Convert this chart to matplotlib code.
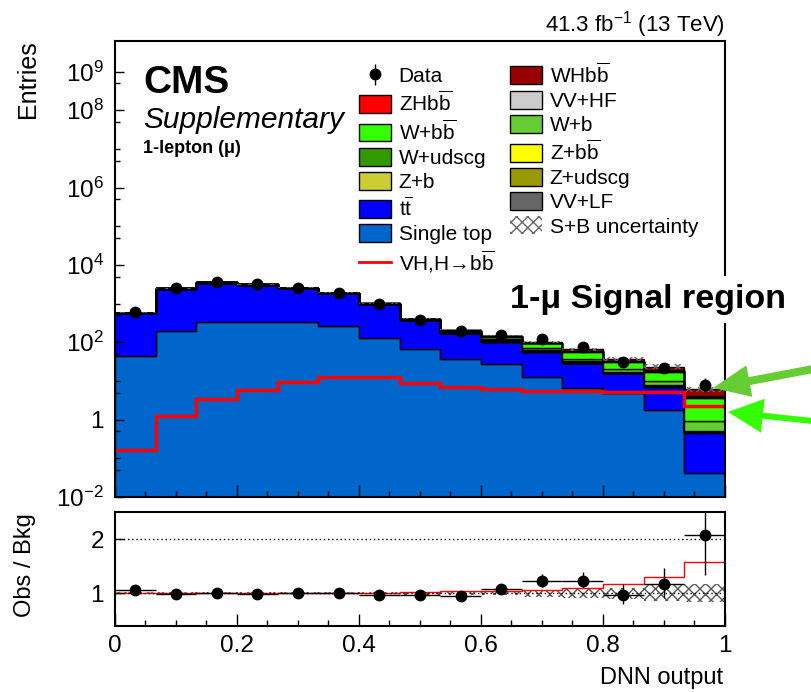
import numpy as np
import matplotlib
matplotlib.use('Agg')
import matplotlib.pyplot as plt
from matplotlib.patches import Patch, FancyArrow
from matplotlib.lines import Line2D
from matplotlib.transforms import IdentityTransform
from matplotlib.ticker import FixedLocator, FixedFormatter, MultipleLocator

plt.rcParams['font.family'] = ['Liberation Sans', 'DejaVu Sans']
plt.rcParams['mathtext.fontset'] = 'custom'
plt.rcParams['mathtext.rm'] = 'Liberation Sans'
plt.rcParams['mathtext.it'] = 'Liberation Sans:italic'
plt.rcParams['mathtext.bf'] = 'Liberation Sans:bold'
plt.rcParams['hatch.linewidth'] = 1.0

# DNN output binning: 15 bins between 0 and 1
edges = np.linspace(0, 1, 16)

data = [619, 2460, 3565, 3131, 2591, 1923, 970, 385, 193, 152, 121, 74, 31, 21, 8]

# backgrounds
single_top = [44, 200, 341, 341, 338, 263, 126, 68, 36.6, 27.5, 12.9, 6.5, 4.8, 1.78, 0.042]
ttbar = [521, 2234, 3157, 2752, 2178, 1604, 859, 315, 133, 76.5, 44, 22.5, 11.2, 5.2, 0.42]
vv_lf = [0.8, 2.5, 3, 2.5, 2, 1.5, 1, 0.6, 1.2, 0.4, 0.2, 0.1, 0.05, 0.05, 0.005]
z_udscg = [1, 3, 3, 2.5, 2, 1.5, 0.8, 0.5, 0.6, 0.8, 0.7, 0.3, 0.1, 0.1, 0.005]
z_b = [0.3, 1, 1, 1, 0.8, 0.6, 0.4, 0.3, 0.4, 0.6, 0.6, 0.3, 0.1, 0.1, 0.005]
z_bb = [0.3, 1, 1.5, 1.5, 1.2, 1, 0.8, 0.6, 0.8, 1.2, 1.5, 0.8, 0.3, 0.2, 0.01]
w_udscg = [10, 30, 35, 28, 20, 14, 8, 4, 6, 5, 4, 2, 1, 0.6, 0.02]
w_b = [3, 10, 12, 10, 8, 6, 4, 3, 6, 7, 7, 5, 2.5, 1.8, 0.39]
w_bb = [2, 6, 8, 8, 7, 6, 5, 6, 14, 20, 24, 20, 11, 7.5, 2.74]
vv_hf = [0.5, 2, 3, 3, 3, 2.5, 2, 1.5, 3, 3, 3, 2.5, 1, 0.7, 0.2]

# signal
zh_bb = [0.019, 0.15, 0.41, 0.7, 1.15, 1.5, 1.5, 1.05, 0.8, 0.75, 0.65, 0.65, 0.65, 0.65, 0.27]
wh_bb = [0.145, 1.09, 2.95, 5.15, 8.1, 11.2, 11.2, 7.75, 6.1, 5.35, 4.95, 4.95, 4.65, 4.65, 1.98]

# relative S+B uncertainty per bin
rel_unc = [0.02, 0.015, 0.015, 0.015, 0.015, 0.015, 0.02, 0.025, 0.03, 0.04, 0.06, 0.08, 0.10, 0.15, 0.17]

bkg_stack = [
    (single_top, '#0066CC'),
    (ttbar, '#0000FF'),
    (vv_lf, '#666666'),
    (z_udscg, '#999900'),
    (z_b, '#CCCC33'),
    (z_bb, '#FFFF00'),
    (w_udscg, '#339900'),
    (w_b, '#66CC33'),
    (w_bb, '#33FF00'),
    (vv_hf, '#CCCCCC'),
]
sig_stack = [
    (zh_bb, '#FF0000'),
    (wh_bb, '#990000'),
]

fig = plt.figure(figsize=(8.12, 6.92), dpi=100)
ax = fig.add_axes([0.1416, 0.2818, 0.7512, 0.659])
rax = fig.add_axes([0.1416, 0.0958, 0.7512, 0.1639])

centers = 0.5 * (edges[:-1] + edges[1:])
n = np.array(data, dtype=float)

# stacked histograms
bottom = np.full(15, 1e-4)
for vals, col in bkg_stack:
    top = bottom + np.array(vals)
    ax.stairs(top, edges, baseline=bottom, fill=True, facecolor=col,
              edgecolor='black', linewidth=1)
    bottom = top
bkg = bottom.copy()
for vals, col in sig_stack:
    top = bottom + np.array(vals)
    ax.stairs(top, edges, baseline=bottom, fill=True, facecolor=col,
              edgecolor='black', linewidth=1)
    bottom = top
total = bottom
sig = np.array(zh_bb) + np.array(wh_bb)
unc = np.array(rel_unc)

def step(v):
    return np.append(v, v[-1])

ax.fill_between(edges, step(total * (1 - unc)), step(total * (1 + unc)), step='post',
                facecolor='none', edgecolor='#666666', hatch='xxx', linewidth=0)

# signal shape
ax.stairs(sig, edges, baseline=None, color='#FF0000', linewidth=2.5)

err_lo = np.sqrt(n)
err_hi = np.sqrt(n) + 1
data_h = ax.errorbar(centers, n, yerr=[err_lo, err_hi], fmt='o', color='black',
                     ms=7.5, lw=1, capsize=0)

ax.set_yscale('log')
ax.set_xlim(0, 1)
ax.set_ylim(1e-2, 10 ** 9.79)
ylab = {1e-2: '$10^{-2}$', 1: '1', 1e2: '$10^{2}$', 1e4: '$10^{4}$',
        1e6: '$10^{6}$', 1e8: '$10^{8}$', 1e9: '$10^{9}$'}
ax.yaxis.set_major_locator(FixedLocator(list(ylab.keys())))
ax.yaxis.set_major_formatter(FixedFormatter(list(ylab.values())))
minor = [10.0 ** k for k in (-1, 1, 3, 5, 7)] + [5 * 10.0 ** k for k in range(-2, 9)]
ax.yaxis.set_minor_locator(FixedLocator(minor))
ax.yaxis.set_minor_formatter(FixedFormatter([''] * len(minor)))

xticks = [0, 0.2, 0.4, 0.6, 0.8, 1]
xlabels = ['0', '0.2', '0.4', '0.6', '0.8', '1']
for a in (ax, rax):
    a.xaxis.set_major_locator(FixedLocator(xticks))
    a.xaxis.set_minor_locator(MultipleLocator(0.05))
    for s in a.spines.values():
        s.set_linewidth(1.5)
    a.tick_params(which='both', direction='in', labelsize=17.5, width=1)
    a.tick_params(axis='x', which='major', length=8.5)
    a.tick_params(axis='x', which='minor', length=4.3)
    a.tick_params(axis='y', which='major', length=6.5, pad=8)
    a.tick_params(axis='y', which='minor', length=3.5)
    a.tick_params(axis='x', pad=7)
ax.tick_params(axis='x', labelbottom=False)

# ratio panel
rax.fill_between(edges, step(1 - unc), step(1 + unc), step='post',
                 facecolor='none', edgecolor='#555555', hatch='xxx', linewidth=0)
rax.stairs((bkg + sig) / bkg, edges, baseline=None, color='#FF0000', linewidth=1)
rax.axhline(1, color='black', ls=(0, (1, 2)), lw=1)
rax.axhline(2, color='black', ls=(0, (1, 2)), lw=1)
rax.errorbar(centers, n / bkg, xerr=0.5 / 15, yerr=[err_lo / bkg, err_hi / bkg], fmt='o',
             color='black', ms=7.5, lw=1, capsize=0)
rax.set_xlim(0, 1)
rax.set_ylim(0.4, 2.5)
rax.set_yticks([1, 2])
rax.set_yticklabels(['1', '2'])
rax.xaxis.set_major_formatter(FixedFormatter(xlabels))

# labels
fig.text(28 / 812, 1 - 40 / 692, 'Entries', rotation=90, ha='center', va='top', fontsize=18)
fig.text(25 / 812, 1 - 565 / 692, 'Obs / Bkg', rotation=90, ha='center', va='center', fontsize=17)
fig.text(723 / 812, 1 - 678 / 692, 'DNN output', ha='right', va='center', fontsize=17)
fig.text(725 / 812, 1 - 32 / 692, '41.3 fb$^{-1}$ (13 TeV)', ha='right', va='baseline', fontsize=16)
fig.text(143 / 812, 1 - 93 / 692, 'CMS', fontweight='bold', fontsize=28, va='baseline')
fig.text(143 / 812, 1 - 128 / 692, 'Supplementary', style='italic', fontsize=21.5, va='baseline')
fig.text(143 / 812, 1 - 153 / 692, '1-lepton (μ)', fontweight='bold', fontsize=13, va='baseline')
fig.text(510 / 812, 1 - 308 / 692, '1-μ Signal region', fontweight='bold', fontsize=24.5,
         va='baseline', bbox=dict(facecolor='white', edgecolor='none', pad=6))

# arrows pointing at the last bin
fig.add_artist(FancyArrow(850, 692 - 362, -137, -26, width=8, head_width=32, head_length=37,
                          length_includes_head=True, color='#66CC33', lw=0,
                          transform=IdentityTransform()))
fig.add_artist(FancyArrow(850, 692 - 425, -122, 13, width=6, head_width=34, head_length=35,
                          length_includes_head=True, color='#33FF00', lw=0,
                          transform=IdentityTransform()))

def box(col):
    return Patch(facecolor=col, edgecolor='black', linewidth=1)

handles = [
    data_h,
    box('#FF0000'),
    box('#33FF00'),
    box('#339900'),
    box('#CCCC33'),
    box('#0000FF'),
    box('#0066CC'),
    Line2D([], [], color='#FF0000', lw=2),
    box('#990000'),
    box('#CCCCCC'),
    box('#66CC33'),
    box('#FFFF00'),
    box('#999900'),
    box('#666666'),
    Patch(facecolor='white', edgecolor='#666666', hatch='xxx', linewidth=0),
]
labels = [
    'Data',
    r'ZHb$\overline{\mathrm{b}}$',
    r'W+b$\overline{\mathrm{b}}$',
    'W+udscg',
    'Z+b',
    r't$\overline{\mathrm{t}}$',
    'Single top',
    r'VH,H→b$\overline{\mathrm{b}}$',
    r'WHb$\overline{\mathrm{b}}$',
    'VV+HF',
    'W+b',
    r'Z+b$\overline{\mathrm{b}}$',
    'Z+udscg',
    'VV+LF',
    'S+B uncertainty',
]
fig.legend(handles, labels, ncol=2, loc='upper left', bbox_to_anchor=(359 / 812, 1 - 62 / 692),
           frameon=False, fontsize=15, borderpad=0, borderaxespad=0, handlelength=1.55,
           handleheight=0.95, handletextpad=0.35, labelspacing=0.2, columnspacing=0.75)

fig.savefig('out.png', dpi=100)
